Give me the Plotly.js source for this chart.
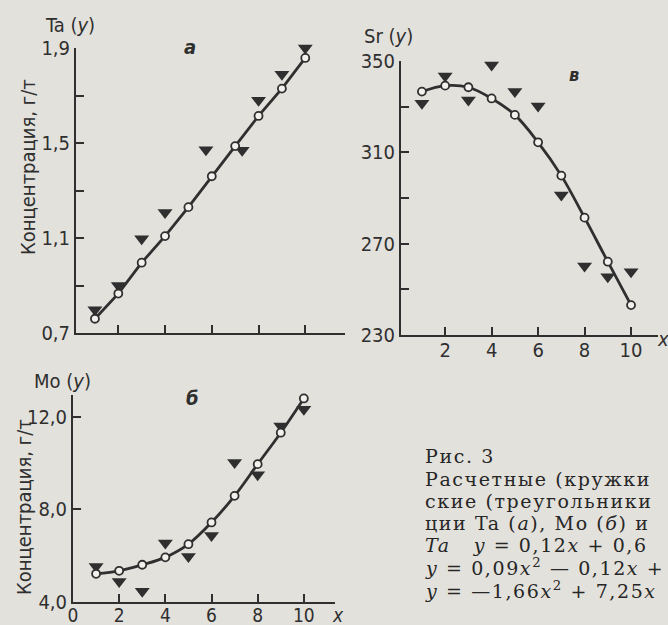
<!DOCTYPE html>
<html>
<head>
<meta charset="utf-8">
<script src="https://cdn.plot.ly/plotly-3.0.1.min.js"></script>
<style>html,body{margin:0;padding:0;background:#e3e1dc;}#chart{width:668px;height:625px;}</style>
</head>
<body>
<div id="chart"></div>
<script>
// ---- data ----
const xCalc = [1, 2, 3, 4, 5, 6, 7, 8, 9, 10];

// Ta (panel a)
const taCalc = [0.76, 0.866, 0.996, 1.108, 1.23, 1.36, 1.487, 1.614, 1.729, 1.858];
const taEmpX = [1, 2, 3, 4, 5.75, 7.3, 8, 9, 10];
const taEmp  = [0.798, 0.9, 1.097, 1.207, 1.472, 1.469, 1.68, 1.789, 1.9];

// Mo (panel б)
const moCalc = [5.22, 5.35, 5.61, 5.93, 6.5, 7.44, 8.59, 9.96, 11.32, 12.8];
const moEmpX = [1, 2, 3, 4, 5, 6, 7, 8, 9, 10];
const moEmp  = [5.54, 4.89, 4.46, 6.55, 5.97, 6.88, 10.03, 9.5, 11.61, 12.33];

// Sr (panel в)
const srCalc = [336.6, 339.2, 338.5, 333.6, 326.4, 314.4, 299.8, 281.4, 262.1, 243.1];
const srEmpX = [1, 2, 3, 4, 5, 6, 7, 8, 9, 10];
const srEmp  = [331.5, 343.4, 332.9, 348.2, 336.6, 330.3, 291.3, 260.2, 255.5, 257.7];

// tick labels
const taTickVals = [0.7, 0.9, 1.1, 1.3, 1.5, 1.7, 1.9];
const taTickText = ['0,7', ' ', '1,1', ' ', '1,5', ' ', '1,9'];
const moTickVals = [4, 8, 12];
const moTickText = ['4,0', '8,0', '12,0'];
const srTickVals = [230, 250, 270, 290, 310, 330, 350];
const srTickText = ['230', ' ', '270', ' ', '310', ' ', '350'];
const xTickVals = [0, 2, 4, 6, 8, 10];
const xTickText = ['0', '2', '4', '6', '8', '10'];

const yTitle = 'Концентрация, г/т';
const captionLines = [
  'Рис. 3',
  'Расчетные (кружки',
  'ские (треугольники',
  'ции Ta (<i>a</i>), Mo (<i>б</i>) и',
  '<i>Ta</i>   <i>y</i> = 0,12<i>x</i> + 0,6',
  '<i>y</i> = 0,09<i>x</i><sup>2</sup> — 0,12<i>x</i> +',
  '<i>y</i> = —1,66<i>x</i><sup>2</sup> + 7,25<i>x</i>'
];

// ---- styles ----
const INK = '#2f2f2f';
const BG = '#e3e1dc';
const SANS = 'Liberation Sans Narrow, DejaVu Sans Condensed, Liberation Sans, sans-serif';
const W = 668, H = 625;
const px = v => v / W;
const py = v => 1 - v / H;

function empTrace(x, y, xa, ya) {
  return {x: x, y: y, xaxis: xa, yaxis: ya, type: 'scatter', mode: 'markers', cliponaxis: false,
    marker: {symbol: 'triangle-down', size: 13, color: INK, line: {width: 0}}, hoverinfo: 'skip'};
}
function calcTrace(x, y, xa, ya, shape) {
  return {x: x, y: y, xaxis: xa, yaxis: ya, type: 'scatter', mode: 'lines+markers', cliponaxis: false,
    line: {color: INK, width: 2.8, shape: shape, smoothing: 1},
    marker: {symbol: 'circle', size: 8, color: '#f2f1ee', line: {color: INK, width: 1.8}}, hoverinfo: 'skip'};
}

const data = [
  empTrace(taEmpX, taEmp, 'x', 'y'),
  calcTrace(xCalc, taCalc, 'x', 'y', 'linear'),
  empTrace(moEmpX, moEmp, 'x2', 'y2'),
  calcTrace(xCalc, moCalc, 'x2', 'y2', 'spline'),
  empTrace(srEmpX, srEmp, 'x3', 'y3'),
  calcTrace(xCalc, srCalc, 'x3', 'y3', 'spline')
];

const axBase = {
  showgrid: false, zeroline: false, showline: true, linecolor: INK, linewidth: 2,
  ticks: 'inside', ticklen: 8, tickwidth: 2, tickcolor: INK, tickmode: 'array',
  tickfont: {family: SANS, size: 20, color: INK}, fixedrange: true
};

const layout = {
  width: W, height: H, margin: {l: 0, r: 0, t: 0, b: 0},
  paper_bgcolor: BG, plot_bgcolor: 'rgba(0,0,0,0)', showlegend: false,
  xaxis: Object.assign({}, axBase, {domain: [px(76), px(345)], range: [0.19, 11.7], anchor: 'y',
    tickvals: [2, 4, 6, 8, 10], showticklabels: false}),
  yaxis: Object.assign({}, axBase, {domain: [py(333), py(48)], range: [0.7, 1.9], anchor: 'x',
    tickvals: taTickVals, ticktext: taTickText}),
  xaxis2: Object.assign({}, axBase, {domain: [px(73), px(335)], range: [0, 11.35], anchor: 'y2',
    tickvals: xTickVals, ticktext: xTickText, ticklabelstandoff: -5, tickfont: {family: SANS, size: 19, color: INK}}),
  yaxis2: Object.assign({}, axBase, {domain: [py(602), py(395)], range: [4, 12.95], anchor: 'x2',
    tickvals: moTickVals, ticktext: moTickText}),
  xaxis3: Object.assign({}, axBase, {domain: [px(401), px(658)], range: [0.1, 11.16], anchor: 'y3',
    tickvals: xTickVals, ticktext: xTickText, ticklabelstandoff: -4}),
  yaxis3: Object.assign({}, axBase, {domain: [py(335), py(61)], range: [230, 350], anchor: 'x3',
    tickvals: srTickVals, ticktext: srTickText}),
  annotations: []
};

function ann(x, y, text, opts) {
  layout.annotations.push(Object.assign({xref: 'paper', yref: 'paper', x: px(x), y: py(y), text: text,
    showarrow: false, xanchor: 'center', yanchor: 'middle',
    font: {family: SANS, size: 20, color: INK}}, opts || {}));
}
// axis titles
ann(28, 167, yTitle, {textangle: -90});
ann(24, 507, yTitle, {textangle: -90});
// element labels
ann(70, 25, 'Ta (<i>y</i>)');
ann(62, 381, 'Mo (<i>y</i>)');
ann(388, 36, 'Sr (<i>y</i>)');
// panel letters
ann(190, 47, '<b><i>a</i></b>');
ann(193, 398, '<b><i>б</i></b>');
ann(574, 74, '<b><i>в</i></b>', {font: {family: SANS, size: 18, color: INK}});
// x labels
ann(663, 339, '<i>x</i>');
ann(338, 615, '<i>x</i>', {font: {family: SANS, size: 19, color: INK}});
// caption
const CAP0 = layout.annotations.length;
const capY = [456, 479, 501, 523, 545, 567, 590];
captionLines.forEach((t, i) => {
  ann(423, capY[i], t, {xanchor: 'left', align: 'left',
    font: {family: 'DejaVu Serif, Liberation Serif, serif', size: 19, color: '#262626'}});
});

// caption letter spacing applied via stylesheet so Plotly measures it when laying out
const sel = captionLines.map((_, i) => 'g.annotation[data-index="' + (CAP0 + i) + '"] text').join(',');
const st = document.createElement('style');
st.textContent = sel + '{letter-spacing:1.6px;}';
document.head.appendChild(st);

Plotly.newPlot('chart', data, layout, {staticPlot: true, displayModeBar: false});
</script>
</body>
</html>
